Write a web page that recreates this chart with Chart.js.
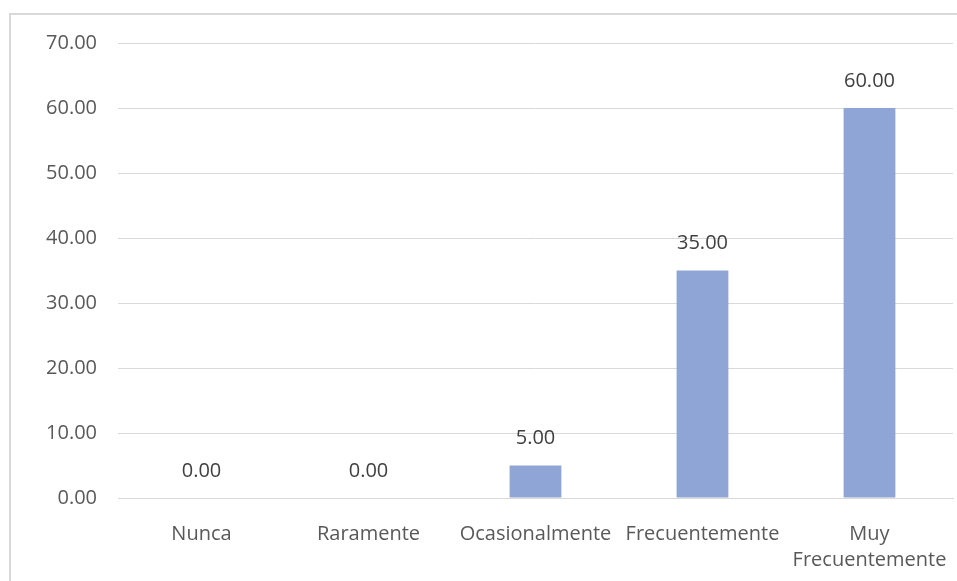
<!DOCTYPE html>
<html>
<head>
<meta charset="utf-8">
<script src="https://cdn.jsdelivr.net/npm/chart.js@4.4.1/dist/chart.umd.min.js"></script>
<style>
  html, body { margin: 0; padding: 0; background: #fff; }
  #wrap { position: relative; width: 957px; height: 581px; }
</style>
</head>
<body>
<div id="wrap"><canvas id="barChart" width="957" height="581"></canvas></div>
<script>
const categorias = ["Nunca", "Raramente", "Ocasionalmente", "Frecuentemente", ["Muy", "Frecuentemente"]];
const valores = [0, 0, 5, 35, 60];
const ticksY = [0, 10, 20, 30, 40, 50, 60, 70];

const FONT = "'Open Sans', sans-serif";

// marco gris del grafico
const marco = {
  id: "marco",
  beforeDraw(chart) {
    const ctx = chart.ctx;
    ctx.save();
    ctx.strokeStyle = "#d9d9d9";
    ctx.lineWidth = 2;
    ctx.strokeRect(10, 14, 960, 600);
    ctx.restore();
  }
};

// etiquetas de valor encima de cada barra
const etiquetas = {
  id: "etiquetas",
  afterDatasetsDraw(chart) {
    const ctx = chart.ctx;
    const meta = chart.getDatasetMeta(0);
    ctx.save();
    ctx.fillStyle = "#404040";
    ctx.font = "20px " + FONT;
    ctx.textAlign = "center";
    ctx.textBaseline = "middle";
    meta.data.forEach((bar, i) => {
      ctx.fillText(valores[i].toFixed(2), bar.x, bar.y - 27);
    });
    ctx.restore();
  }
};

new Chart(document.getElementById("barChart").getContext("2d"), {
  type: "bar",
  data: {
    labels: categorias,
    datasets: [{
      data: valores,
      backgroundColor: "#8fa5d6",
      categoryPercentage: 1,
      barPercentage: 0.31
    }]
  },
  options: {
    responsive: false,
    maintainAspectRatio: false,
    animation: false,
    layout: { padding: { top: 43, right: 4, left: 0, bottom: 0 } },
    plugins: {
      legend: { display: false },
      tooltip: { enabled: false }
    },
    scales: {
      x: {
        grid: { display: false },
        border: { color: "#d9d9d9" },
        ticks: {
          color: "#595959",
          font: { family: FONT, size: 20, lineHeight: 1.3 },
          padding: 15,
          maxRotation: 0,
          autoSkip: false
        },
        afterFit: s => {
          s.height = 83;
          s.paddingLeft = 0;
          s.paddingRight = 0;
        }
      },
      y: {
        min: 0,
        max: 70,
        afterBuildTicks: s => { s.ticks = ticksY.map(v => ({ value: v })); },
        grid: { color: "#d9d9d9", drawTicks: false },
        border: { display: false },
        ticks: {
          color: "#595959",
          font: { family: FONT, size: 20 },
          padding: 21,
          callback: v => Number(v).toFixed(2)
        },
        afterFit: s => {
          s.width = 118;
          s.paddingTop = 0;
          s.paddingBottom = 0;
        }
      }
    }
  },
  plugins: [marco, etiquetas]
});
</script>
</body>
</html>
